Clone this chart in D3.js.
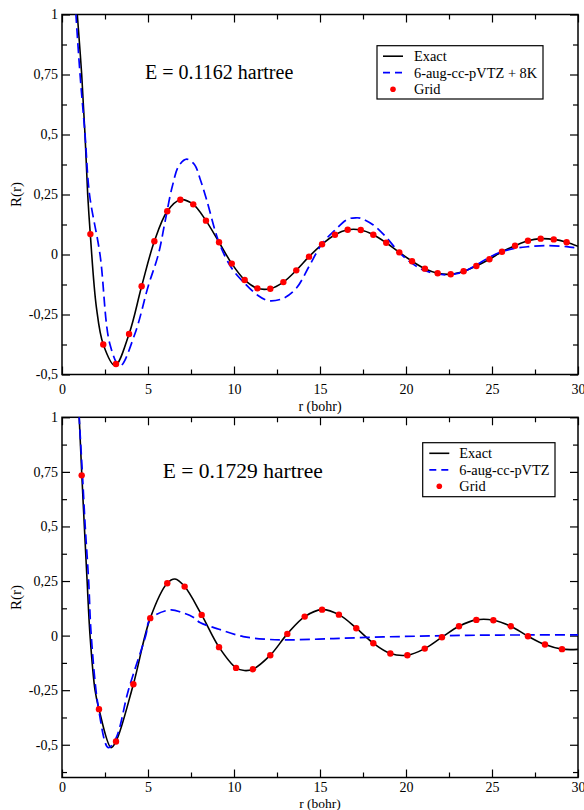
<!DOCTYPE html>
<html>
<head>
<meta charset="utf-8">
<script src="https://cdn.jsdelivr.net/npm/d3@7"></script>
<style>
  body { margin: 0; background: #fff; }
  svg { display: block; }
  svg text { font-family: "Liberation Serif", "Times New Roman", serif; }
</style>
</head>
<body>
<svg id="chart" width="584" height="810"></svg>
<script>
// ---- data ----
// top panel, E = 0.1162 hartree
const topExactR = [0.78, 0.89, 1.145, 1.337, 1.494, 1.645, 2.0, 2.4, 3.08, 3.9, 4.63, 5.37, 6.12, 6.88, 7.63, 8.37, 9.13, 9.87, 10.62, 11.36, 12.11, 12.87, 13.62, 14.36, 15.12, 15.87, 16.61, 17.37, 18.1, 18.85, 19.61, 20.35, 21.1, 21.84, 22.6, 23.35, 24.09, 24.85, 25.58, 26.34, 27.09, 27.83, 28.59, 29.34, 30];
const topExactV = [1.12, 1.0, 0.75, 0.5, 0.25, 0.085, -0.22, -0.375, -0.463, -0.331, -0.1325, 0.055, 0.18, 0.228, 0.209, 0.141, 0.051, -0.038, -0.106, -0.141, -0.1425, -0.115, -0.066, -0.009, 0.0425, 0.0825, 0.103, 0.102, 0.0825, 0.049, 0.009, -0.028, -0.059, -0.078, -0.0825, -0.07, -0.048, -0.02, 0.0117, 0.0367, 0.0575, 0.066, 0.063, 0.051, 0.034];

const topBasisR = [0.7, 0.81, 1.05, 1.34, 1.6, 2.21, 2.79, 3.37, 4.24, 5.02, 5.6, 6.0, 6.4, 6.8, 7.25, 7.7, 8.02, 8.4, 9.13, 9.87, 10.62, 11.36, 12.0, 12.87, 13.62, 14.36, 15.1, 15.87, 16.61, 17.1, 17.37, 18.1, 18.85, 19.6, 20.35, 21.1, 22.17, 22.6, 23.35, 24.09, 24.85, 25.58, 26.34, 27.09, 28.2, 29.34, 30];
const topBasisV = [1.13, 1.0, 0.75, 0.5, 0.25, 0, -0.375, -0.465, -0.33, -0.13, 0, 0.14, 0.28, 0.37, 0.397, 0.375, 0.317, 0.23, 0.05, -0.0575, -0.12, -0.169, -0.1925, -0.1825, -0.141, -0.05, 0.0425, 0.102, 0.147, 0.153, 0.151, 0.123, 0.072, 0.009, -0.037, -0.0675, -0.084, -0.084, -0.0717, -0.044, -0.0117, 0.012, 0.026, 0.0325, 0.037, 0.0325, 0.026];

const topGridR = [1.65, 2.4, 3.14, 3.9, 4.63, 5.37, 6.12, 6.88, 7.63, 8.37, 9.13, 9.87, 10.62, 11.36, 12.11, 12.87, 13.62, 14.36, 15.12, 15.87, 16.61, 17.37, 18.1, 18.85, 19.61, 20.35, 21.1, 21.84, 22.6, 23.35, 24.09, 24.85, 25.58, 26.34, 27.09, 27.83, 28.59, 29.34];
const topGridV = [0.085, -0.375, -0.456, -0.331, -0.1325, 0.055, 0.18, 0.228, 0.209, 0.141, 0.051, -0.038, -0.106, -0.141, -0.1425, -0.115, -0.066, -0.009, 0.0425, 0.0825, 0.103, 0.102, 0.0825, 0.049, 0.009, -0.028, -0.059, -0.078, -0.0825, -0.07, -0.048, -0.02, 0.0117, 0.0367, 0.0575, 0.066, 0.063, 0.051];

// bottom panel, E = 0.1729 hartree
const botExactR = [0.9, 1.0, 1.15, 1.3, 1.46, 1.63, 1.92, 2.15, 2.85, 3.14, 4.15, 5.13, 6.12, 6.57, 7.13, 8.12, 9.13, 10.12, 10.6, 11.1, 12.11, 13.1, 14.11, 15.12, 16.1, 17.11, 18.1, 19.09, 20.08, 21.09, 22.09, 23.08, 24.09, 25.08, 26.09, 27.09, 28.08, 29.07, 30];
const botExactV = [1.15, 1.0, 0.74, 0.5, 0.25, 0, -0.25, -0.337, -0.513, -0.485, -0.2225, 0.08, 0.24, 0.259, 0.2245, 0.0948, -0.053, -0.148, -0.16, -0.154, -0.0897, 0.0078, 0.087, 0.119, 0.096, 0.034, -0.035, -0.082, -0.0897, -0.0595, -0.0073, 0.043, 0.0719, 0.0705, 0.043, -0.0027, -0.041, -0.062, -0.063];

const botBasisR = [0.9, 1.0, 1.18, 1.35, 1.55, 1.7, 2.13, 2.69, 3.14, 3.86, 4.87, 5.12, 6.28, 7.0, 7.63, 8.02, 9.13, 10.54, 11.9, 13.06, 15.78, 18.69, 21.6, 24.5, 27.4, 30];
const botBasisV = [1.15, 1.0, 0.75, 0.5, 0.25, 0, -0.337, -0.513, -0.47, -0.25, 0, 0.075, 0.118, 0.105, 0.084, 0.06, 0.029, -0.0045, -0.0167, -0.0197, -0.0137, -0.006, -0.0014, 0.002, 0.003, 0.003];

const botGridR = [1.145, 2.15, 3.14, 4.15, 5.13, 6.12, 7.13, 8.12, 9.13, 10.12, 11.1, 12.11, 13.1, 14.11, 15.12, 16.1, 17.11, 18.1, 19.09, 20.08, 21.09, 22.09, 23.08, 24.09, 25.08, 26.09, 27.09, 28.08, 29.07];
const botGridV = [0.734, -0.337, -0.485, -0.2225, 0.08, 0.24, 0.2245, 0.0948, -0.053, -0.148, -0.154, -0.0897, 0.0078, 0.087, 0.119, 0.096, 0.034, -0.035, -0.082, -0.0897, -0.0595, -0.0073, 0.043, 0.0719, 0.0705, 0.043, -0.0027, -0.041, -0.062];

const xMajor = [0, 5, 10, 15, 20, 25, 30];
const xMinor = [2.5, 7.5, 12.5, 17.5, 22.5, 27.5];
const topYMajor = [-0.5, -0.25, 0, 0.25, 0.5, 0.75, 1];
const topYMinor = [-0.375, -0.125, 0.125, 0.375, 0.625, 0.875];
const botYMajor = [-0.5, -0.25, 0, 0.25, 0.5, 0.75, 1];
const botYMinor = [-0.625, -0.375, -0.125, 0.125, 0.375, 0.625, 0.875];

const zip = (xs, ys) => xs.map((x, i) => [x, ys[i]]);

const svg = d3.select("#chart");
const serif = "Liberation Serif, Times New Roman, serif";
const fmt = d3.formatLocale({ decimal: ",", thousands: ".", grouping: [3], currency: ["", ""], minus: "-" }).format("~g");

function drawPanel(cfg) {
    const x = d3.scaleLinear().domain([0, 30]).range([cfg.left, cfg.right]);
    const y = d3.scaleLinear().domain(cfg.yDomain).range([cfg.bottom, cfg.top]);
    const g = svg.append("g");

    const clipId = "clip" + cfg.id;
    g.append("clipPath").attr("id", clipId)
        .append("rect")
        .attr("x", cfg.left).attr("y", cfg.top)
        .attr("width", cfg.right - cfg.left).attr("height", cfg.bottom - cfg.top);

    // ticks, all pointing inward; labels only on bottom and left
    const axes = [
        { ax: d3.axisBottom(x), tr: `translate(0,${cfg.bottom})`, major: xMajor, minor: xMinor, labels: true, pad: cfg.xPad },
        { ax: d3.axisTop(x), tr: `translate(0,${cfg.top})`, major: xMajor, minor: xMinor, labels: false, pad: 4 },
        { ax: d3.axisLeft(y), tr: `translate(${cfg.left},0)`, major: cfg.yMajor, minor: cfg.yMinor, labels: true, pad: 4 },
        { ax: d3.axisRight(y), tr: `translate(${cfg.right},0)`, major: cfg.yMajor, minor: cfg.yMinor, labels: false, pad: 4 }
    ];
    axes.forEach(a => {
        const gm = g.append("g").attr("transform", a.tr)
            .call(a.ax.tickValues(a.major).tickSize(-8).tickPadding(a.pad)
                .tickFormat(a.labels ? fmt : ""));
        gm.attr("font-family", serif);
        gm.select(".domain").remove();
        gm.selectAll("line").attr("stroke-width", 1.2);
        gm.selectAll("text").style("font-family", serif).attr("font-size", 14).attr("fill", "#000");
        const gn = g.append("g").attr("transform", a.tr)
            .call(a.ax.tickValues(a.minor).tickSize(-5).tickFormat(""));
        gn.select(".domain").remove();
        gn.selectAll("line").attr("stroke-width", 1.2);
    });

    g.append("rect")
        .attr("x", cfg.left).attr("y", cfg.top)
        .attr("width", cfg.right - cfg.left).attr("height", cfg.bottom - cfg.top)
        .attr("fill", "none").attr("stroke", "#000").attr("stroke-width", 1.5);

    const line = d3.line().x(d => x(d[0])).y(d => y(d[1])).curve(d3.curveCatmullRom.alpha(0.5));
    const plot = g.append("g").attr("clip-path", `url(#${clipId})`);

    plot.append("path").datum(zip(cfg.exactR, cfg.exactV))
        .attr("d", line).attr("fill", "none").attr("stroke", "#000").attr("stroke-width", 1.6);

    plot.append("path").datum(zip(cfg.basisR, cfg.basisV))
        .attr("d", line).attr("fill", "none").attr("stroke", "#0000ff")
        .attr("stroke-width", 1.7).attr("stroke-dasharray", "10,5");

    plot.selectAll(".grid").data(zip(cfg.gridR, cfg.gridV)).enter()
        .append("circle").attr("class", "grid")
        .attr("cx", d => x(d[0])).attr("cy", d => y(d[1]))
        .attr("r", 3.2).attr("fill", "#ff0000");

    // axis titles
    g.append("text")
        .attr("transform", `translate(21,${(cfg.top + cfg.bottom) / 2}) rotate(-90)`)
        .attr("text-anchor", "middle").attr("font-size", 15)
        .style("font-family", serif)
        .text("R(r)");
    g.append("text")
        .attr("x", (cfg.left + cfg.right) / 2).attr("y", cfg.xTitleY)
        .attr("text-anchor", "middle").attr("font-size", cfg.xTitleSize)
        .style("font-family", serif)
        .text("r (bohr)");

    // energy label
    g.append("text")
        .attr("x", cfg.eX).attr("y", cfg.eY)
        .attr("font-size", cfg.eSize)
        .style("font-family", serif)
        .text(cfg.energy);

    // legend
    const L = cfg.legend;
    const lg = g.append("g").attr("transform", `translate(${L.x},${L.y})`);
    lg.append("rect").attr("width", L.w).attr("height", L.h)
        .attr("fill", "#fff").attr("stroke", "#000").attr("stroke-width", 1.2);
    const rows = [
        { label: "Exact", kind: "solid" },
        { label: cfg.basisLabel, kind: "dash" },
        { label: "Grid", kind: "dot" }
    ];
    rows.forEach((row, i) => {
        const cy = L.firstRow + i * L.step;
        if (row.kind === "solid") {
            lg.append("line").attr("x1", L.sx).attr("x2", L.sx + 20).attr("y1", cy).attr("y2", cy)
                .attr("stroke", "#000").attr("stroke-width", 1.6);
        } else if (row.kind === "dash") {
            lg.append("line").attr("x1", L.sx).attr("x2", L.sx + 20).attr("y1", cy).attr("y2", cy)
                .attr("stroke", "#0000ff").attr("stroke-width", 1.7).attr("stroke-dasharray", "7,5");
        } else {
            lg.append("circle").attr("cx", L.sx + 10).attr("cy", cy).attr("r", 2.8).attr("fill", "#ff0000");
        }
        lg.append("text").attr("x", L.tx).attr("y", cy + 5)
            .attr("font-size", 14.4).style("font-family", serif).text(row.label);
    });
}

drawPanel({
    id: "top", left: 62, right: 578, top: 14.5, bottom: 374.5,
    yDomain: [-0.5, 1], yMajor: topYMajor, yMinor: topYMinor,
    exactR: topExactR, exactV: topExactV,
    basisR: topBasisR, basisV: topBasisV,
    gridR: topGridR, gridV: topGridV,
    xPad: 10, xTitleY: 411, xTitleSize: 14,
    energy: "E = 0.1162 hartree", eX: 145, eY: 79, eSize: 20,
    basisLabel: "6-aug-cc-pVTZ + 8K",
    legend: { x: 377, y: 45.7, w: 166, h: 53.3, sx: 6, tx: 37, firstRow: 10.5, step: 16.5 }
});

drawPanel({
    id: "bot", left: 62, right: 578, top: 417.3, bottom: 777.5,
    yDomain: [-0.65, 1], yMajor: botYMajor, yMinor: botYMinor,
    exactR: botExactR, exactV: botExactV,
    basisR: botBasisR, basisV: botBasisV,
    gridR: botGridR, gridV: botGridV,
    xPad: 5, xTitleY: 807.5, xTitleSize: 13.5,
    energy: "E = 0.1729 hartree", eX: 162.7, eY: 477.7, eSize: 21.5,
    basisLabel: "6-aug-cc-pVTZ",
    legend: { x: 422.7, y: 442.7, w: 132.3, h: 54, sx: 6.6, tx: 36.6, firstRow: 10.6, step: 16.5 }
});
</script>
</body>
</html>
